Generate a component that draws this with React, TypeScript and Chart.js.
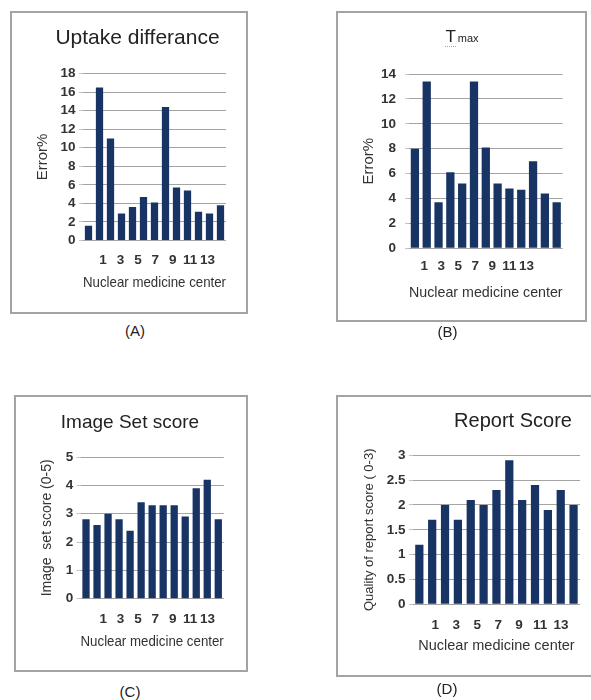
import React, { useEffect, useRef } from 'react';
import { Chart, registerables } from 'chart.js';

Chart.register(...registerables);

// ---- data ----
const CENTERS = ['1', '2', '3', '4', '5', '6', '7', '8', '9', '10', '11', '12', '13'];
const X_TICK_LABELS = [1, 3, 5, 7, 9, 11, 13];
const UPTAKE_ERROR = [1.6, 16.5, 11.0, 2.9, 3.6, 4.7, 4.1, 14.4, 5.7, 5.4, 3.1, 2.9, 3.8];
const TMAX_ERROR = [8.0, 13.4, 3.7, 6.1, 5.2, 13.4, 8.1, 5.2, 4.8, 4.7, 7.0, 4.4, 3.7];
const IMAGE_SET_SCORE = [2.8, 2.6, 3.0, 2.8, 2.4, 3.4, 3.3, 3.3, 3.3, 2.9, 3.9, 4.2, 2.8];
const REPORT_SCORE = [1.2, 1.7, 2.0, 1.7, 2.1, 2.0, 2.3, 2.9, 2.1, 2.4, 1.9, 2.3, 2.0];

const FONT = "'Liberation Sans', Arial, Helvetica, sans-serif";
const BAR = '#183464';
const GRID = '#a4a4a4';
const TEXT = '#333333';

type Panel = {
  key: string;
  values: number[];
  box: { x: number; y: number; w: number; h: number };
  openRight?: boolean;
  area: { l: number; t: number; r: number; b: number };
  xl: [number, number];
  yMax: number;
  yStep: number;
  yTitle: string;
  yTitleSize: number;
  yTitleCX: number;
  yTickPad: number;
  xTickCY: number;
  xTitleSize: number;
  xTitleCY: number;
  barPct: number;
};

const PANELS: Panel[] = [
  {
    key: 'A', values: UPTAKE_ERROR,
    box: { x: 11, y: 12, w: 236, h: 301 },
    area: { l: 83, t: 73.5, r: 226, b: 240.5 },
    xl: [-0.13, 13.94], yMax: 18, yStep: 2,
    yTitle: 'Error%', yTitleSize: 15, yTitleCX: 43, yTickPad: 3.5,
    xTickCY: 260, xTitleSize: 14.5, xTitleCY: 282.7, barPct: 0.66,
  },
  {
    key: 'B', values: TMAX_ERROR,
    box: { x: 337, y: 12, w: 249, h: 309 },
    area: { l: 409, t: 74, r: 562.6, b: 248.3 },
    xl: [0.51, 15.95], yMax: 14, yStep: 2,
    yTitle: 'Error%', yTitleSize: 15, yTitleCX: 369, yTickPad: 9,
    xTickCY: 266, xTitleSize: 14.5, xTitleCY: 293.3, barPct: 0.7,
  },
  {
    key: 'C', values: IMAGE_SET_SCORE,
    box: { x: 15, y: 396, w: 232, h: 275 },
    area: { l: 80.5, t: 457, r: 223.8, b: 598.7 },
    xl: [-0.43, 13.71], yMax: 5, yStep: 1,
    yTitle: 'Image  set score (0-5)', yTitleSize: 14, yTitleCX: 47.3, yTickPad: 3.2,
    xTickCY: 619.3, xTitleSize: 14, xTitleCY: 641.7, barPct: 0.66,
  },
  {
    key: 'D', values: REPORT_SCORE,
    box: { x: 337, y: 396, w: 254, h: 280 }, openRight: true,
    area: { l: 412.9, t: 455.3, r: 580, b: 604.3 },
    xl: [0.005, 13.67], yMax: 3, yStep: 0.5,
    yTitle: 'Quality of report score ( 0-3)', yTitleSize: 13, yTitleCX: 369, yTickPad: 3.4,
    xTickCY: 625, xTitleSize: 14.5, xTitleCY: 646, barPct: 0.64,
  },
];

function makeChart(canvas: HTMLCanvasElement, p: Panel) {
  const LH = 1.2;
  const tickFont = { family: FONT, size: 13.5, weight: 'bold' as const, lineHeight: LH };
  const bottomH = p.box.y + p.box.h - p.area.b;
  const leftW = p.area.l - p.box.x;
  return new Chart(canvas, {
    type: 'bar',
    data: {
      labels: CENTERS,
      datasets: [
        {
          data: p.values,
          backgroundColor: BAR,
          borderWidth: 0,
          barPercentage: p.barPct,
          categoryPercentage: 1,
          xAxisID: 'x',
          yAxisID: 'y',
        },
      ],
    },
    options: {
      animation: false,
      responsive: false,
      events: [],
      layout: {
        padding: { left: 0, top: p.area.t - p.box.y, right: p.box.x + p.box.w - p.area.r, bottom: 0 },
      },
      plugins: {
        legend: { display: false },
        tooltip: { enabled: false },
        title: { display: false },
      },
      scales: {
        x: { type: 'category', display: false, offset: true },
        xl: {
          type: 'linear',
          position: 'bottom',
          bounds: 'data',
          min: p.xl[0],
          max: p.xl[1],
          grid: { display: false, drawTicks: false },
          border: { display: false },
          afterBuildTicks: (s: any) => {
            s.ticks = X_TICK_LABELS.map((v) => ({ value: v }));
          },
          afterFit: (s: any) => {
            s.height = bottomH;
          },
          ticks: {
            autoSkip: false,
            maxRotation: 0,
            padding: p.xTickCY - p.area.b - (13.5 * LH) / 2,
            font: tickFont,
            color: TEXT,
            callback: (v: any) => String(v),
          },
          title: {
            display: true,
            text: 'Nuclear medicine center',
            color: TEXT,
            font: { family: FONT, size: p.xTitleSize, lineHeight: LH },
            padding: { top: 0, bottom: p.box.y + p.box.h - p.xTitleCY - (p.xTitleSize * LH) / 2 },
          },
        },
        y: {
          type: 'linear',
          min: 0,
          max: p.yMax,
          afterFit: (s: any) => {
            s.width = leftW;
          },
          grid: { color: GRID, lineWidth: 1, drawTicks: true, tickLength: 4, tickColor: '#c4c4c4' },
          border: { display: false },
          ticks: {
            stepSize: p.yStep,
            autoSkip: false,
            padding: p.yTickPad,
            font: tickFont,
            color: TEXT,
            callback: (v: any) => String(v),
          },
          title: {
            display: true,
            text: p.yTitle,
            color: TEXT,
            font: { family: FONT, size: p.yTitleSize, lineHeight: LH },
            padding: { top: p.yTitleCX - p.box.x - (p.yTitleSize * LH) / 2, bottom: 0 },
          },
        },
      },
    } as any,
  });
}

const abs = (x: number, y: number, extra: React.CSSProperties = {}): React.CSSProperties => ({
  position: 'absolute',
  left: x,
  top: y,
  ...extra,
});

function CenteredText({ cx, cy, size, children, h = 30 }: { cx: number; cy: number; size: number; children: React.ReactNode; h?: number }) {
  return (
    <div
      style={abs(cx - 150, cy - h / 2, {
        width: 300,
        height: h,
        lineHeight: h + 'px',
        textAlign: 'center',
        fontFamily: FONT,
        fontSize: size,
        color: '#222',
        whiteSpace: 'pre',
      })}
    >
      {children}
    </div>
  );
}

export default function App() {
  const refs = useRef<(HTMLCanvasElement | null)[]>([]);

  useEffect(() => {
    const charts = PANELS.map((p, i) => makeChart(refs.current[i] as HTMLCanvasElement, p));
    return () => charts.forEach((c) => c.destroy());
  }, []);

  return (
    <div style={abs(0, 0, { width: 591, height: 700, overflow: 'hidden', background: '#fff' })}>
      {PANELS.map((p, i) => (
        <React.Fragment key={p.key}>
          <div
            style={abs(p.box.x - 1, p.box.y - 1, {
              width: p.box.w + (p.openRight ? 20 : 2),
              height: p.box.h + 2,
              border: '2px solid #a3a3a3',
              boxSizing: 'border-box',
            })}
          />
          <canvas
            ref={(el) => {
              refs.current[i] = el;
            }}
            width={p.box.w}
            height={p.box.h}
            style={abs(p.box.x, p.box.y, { width: p.box.w, height: p.box.h, display: 'block' })}
          />
        </React.Fragment>
      ))}

      <CenteredText cx={137.5} cy={36.7} size={21}>Uptake differance</CenteredText>
      <div
        style={abs(312, 22, {
          width: 300,
          height: 30,
          textAlign: 'center',
          fontFamily: FONT,
          color: '#222',
          lineHeight: '30px',
        })}
      >
        <span style={{ fontSize: 17, borderBottom: '1px dotted #e08a8a' }}>T</span>
        <span style={{ fontSize: 11, marginLeft: 2 }}>max</span>
      </div>
      <CenteredText cx={130} cy={421.7} size={19}>Image Set score</CenteredText>
      <CenteredText cx={513} cy={420} size={20}>Report Score</CenteredText>

      <CenteredText cx={135} cy={331} size={15}>(A)</CenteredText>
      <CenteredText cx={447.5} cy={331.7} size={15}>(B)</CenteredText>
      <CenteredText cx={130} cy={692} size={15}>(C)</CenteredText>
      <CenteredText cx={447} cy={689} size={15}>(D)</CenteredText>
    </div>
  );
}
